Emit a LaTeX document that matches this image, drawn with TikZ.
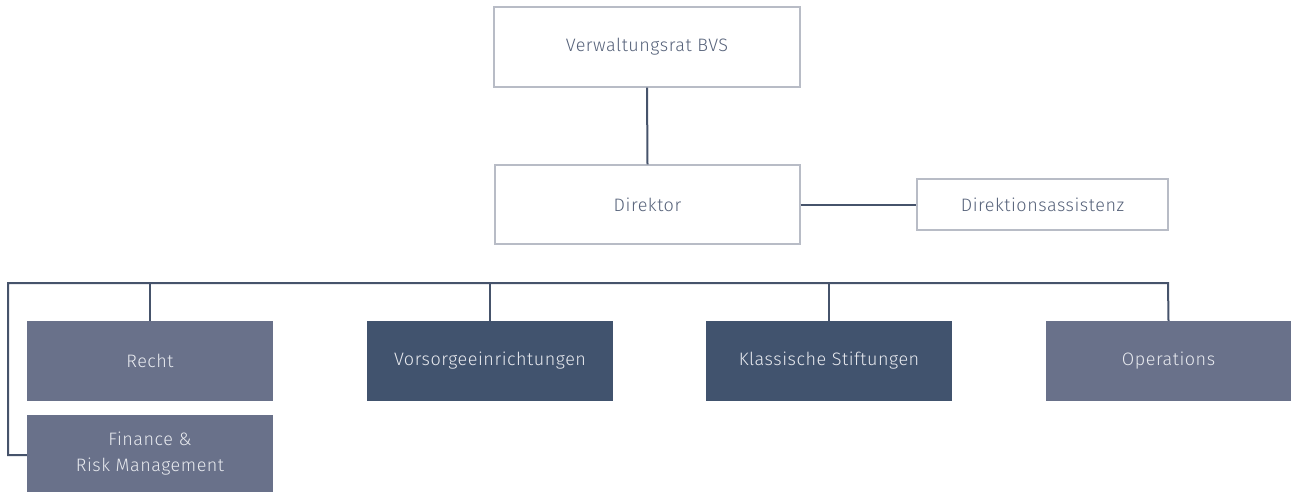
\documentclass[tikz,border=0pt]{standalone}
\usepackage{fontspec}
\setmainfont{Fira Sans}[UprightFont=* Light, LetterSpace=3]
\definecolor{linec}{HTML}{46536B}
\definecolor{bordc}{HTML}{B8BCC6}
\definecolor{txtc}{HTML}{56627A}
\definecolor{midc}{HTML}{69718A}
\definecolor{darkc}{HTML}{41536E}
\definecolor{lightt}{HTML}{E8EAEF}
\begin{document}
\begin{tikzpicture}[x=1pt,y=-1pt,
  wbox/.style={draw=bordc,line width=1.3pt,fill=white,text=txtc,font=\fontsize{18}{21}\selectfont},
  fbox/.style={draw=none,text=lightt,align=center,font=\fontsize{18}{26}\selectfont},
  conn/.style={draw=linec,line width=2pt}]
\useasboundingbox (0,0) rectangle (1291,492);
\node[wbox,minimum width=306pt,minimum height=80pt] (vr) at (647,47) {Verwaltungsrat BVS};
\node[wbox,minimum width=305pt,minimum height=79pt] (dir) at (647.5,204.5) {Direktor};
\node[wbox,minimum width=251pt,minimum height=51pt] (da) at (1042.5,204.5) {Direktionsassistenz};
\node[fbox,fill=midc,minimum width=246pt,minimum height=80pt] (recht) at (150,361) {Recht};
\node[fbox,fill=midc,minimum width=246pt,minimum height=77pt] (fin) at (150,453.5) {Finance \&\\Risk Management};
\node[fbox,fill=darkc,minimum width=246pt,minimum height=80pt] (vor) at (490,361) {Vorsorgeeinrichtungen};
\node[fbox,fill=darkc,minimum width=246pt,minimum height=80pt] (kla) at (829,361) {Klassische Stiftungen};
\node[fbox,fill=midc,minimum width=245pt,minimum height=80pt] (ops) at (1168.5,361) {Operations};
\coordinate (bl) at (8,283);
\coordinate (br) at (1168,283);
\draw[conn] (vr.south) -- (dir.north);
\draw[conn] (dir.east) -- (da.west);
\draw[conn] (fin.west |- 0,455) -- (8,455) -- (bl) -- (br) -- (ops.north);
\draw[conn] (recht.north) -- (recht.north |- bl);
\draw[conn] (vor.north) -- (vor.north |- bl);
\draw[conn] (kla.north) -- (kla.north |- bl);
\end{tikzpicture}
\end{document}
